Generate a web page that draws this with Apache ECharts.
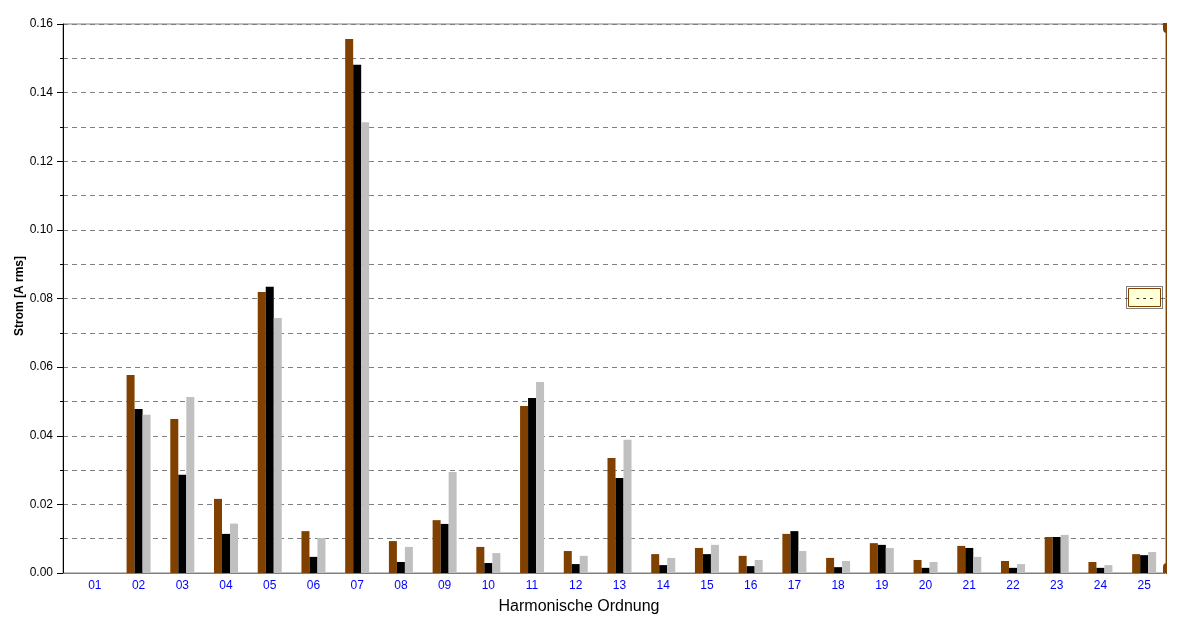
<!DOCTYPE html>
<html>
<head>
<meta charset="utf-8">
<script src="https://cdn.jsdelivr.net/npm/echarts@6/dist/echarts.min.js"></script>
<style>
html,body{margin:0;padding:0;background:#fff;}
#chart{width:1181px;height:631px;}
</style>
</head>
<body>
<div id="chart"></div>
<script>
const categories = ['01','02','03','04','05','06','07','08','09','10','11','12','13','14','15','16','17','18','19','20','21','22','23','24','25'];
const seriesL1 = [0, 0.0577, 0.0449, 0.0216, 0.0819, 0.0122, 0.1556, 0.0093, 0.0154, 0.0076, 0.0487, 0.0064, 0.0335, 0.0055, 0.0073, 0.0050, 0.0114, 0.0044, 0.0087, 0.0038, 0.0079, 0.0035, 0.0105, 0.0032, 0.0055];
const seriesL2 = [0, 0.0478, 0.0286, 0.0114, 0.0834, 0.0047, 0.1481, 0.0032, 0.0143, 0.0029, 0.0510, 0.0026, 0.0277, 0.0023, 0.0055, 0.0020, 0.0122, 0.0017, 0.0082, 0.0015, 0.0073, 0.0015, 0.0105, 0.0015, 0.0052];
const seriesL3 = [0, 0.0461, 0.0513, 0.0144, 0.0743, 0.0102, 0.1314, 0.0076, 0.0294, 0.0058, 0.0557, 0.0050, 0.0388, 0.0044, 0.0082, 0.0038, 0.0064, 0.0035, 0.0073, 0.0032, 0.0047, 0.0026, 0.0111, 0.0023, 0.0061];
const yTicks = [0, 0.02, 0.04, 0.06, 0.08, 0.10, 0.12, 0.14, 0.16];

const chart = echarts.init(document.getElementById('chart'), null, {renderer: 'canvas'});
const font = 'Liberation Sans, Arial, sans-serif';
const yMin = yTicks[0], yMax = yTicks[yTicks.length - 1];

const option = {
  animation: false,
  backgroundColor: '#ffffff',
  grid: [
    {left: 63, right: 15, top: 24, bottom: 58, show: true, borderColor: '#808080', borderWidth: 1, backgroundColor: 'transparent'},
    {left: 73, right: 15, top: 24, bottom: 58}
  ],
  xAxis: [
    {type: 'value', gridIndex: 0, min: 0, max: 1, axisLine: {show: true, lineStyle: {color: '#808080', width: 1}}, axisTick: {show: false}, axisLabel: {show: false}, splitLine: {show: false}},
    {type: 'category', gridIndex: 1, data: categories, axisLine: {show: false}, axisTick: {show: false},
     axisLabel: {color: '#0000ff', fontFamily: font, fontSize: 12, margin: 7}}
  ],
  yAxis: [
    {type: 'value', gridIndex: 0, min: yMin, max: yMax, interval: 0.02,
     axisLine: {show: true, lineStyle: {color: '#000', width: 1}},
     axisTick: {show: true, length: 6, lineStyle: {color: '#000'}},
     minorTick: {show: true, splitNumber: 2, length: 3, lineStyle: {color: '#000'}},
     axisLabel: {color: '#000', fontFamily: font, fontSize: 12, margin: 10, formatter: v => v.toFixed(2)},
     splitLine: {show: true, lineStyle: {color: '#808080', type: [5, 4], width: 1}},
     minorSplitLine: {show: true, lineStyle: {color: '#808080', type: [5, 4], width: 1}}
    },
    {type: 'value', gridIndex: 1, min: yMin, max: yMax, show: false, splitLine: {show: false}}
  ],
  series: [
    {type: 'bar', xAxisIndex: 1, yAxisIndex: 1, data: seriesL1, barWidth: 8, barGap: '0%', itemStyle: {color: '#804000'}},
    {type: 'bar', xAxisIndex: 1, yAxisIndex: 1, data: seriesL2, barWidth: 8, barGap: '0%', itemStyle: {color: '#000000'}},
    {type: 'bar', xAxisIndex: 1, yAxisIndex: 1, data: seriesL3, barWidth: 8, barGap: '0%', itemStyle: {color: '#c0c0c0'}}
  ],
  graphic: [
    {type: 'text', x: 20, y: 296, rotation: Math.PI / 2, z: 10, style: {text: 'Strom [A rms]', fill: '#000', font: 'bold 12px ' + font, textAlign: 'center', textVerticalAlign: 'middle'}},
    {type: 'text', x: 579, y: 599, z: 10, style: {text: 'Harmonische Ordnung', fill: '#000', font: '16px ' + font, textAlign: 'center', textVerticalAlign: 'top'}},
    {type: 'line', z: 20, shape: {x1: 1165.5, y1: 23, x2: 1165.5, y2: 574}, style: {stroke: '#f0a060', lineWidth: 1}},
    {type: 'line', z: 20, shape: {x1: 1166.5, y1: 23, x2: 1166.5, y2: 574}, style: {stroke: '#804000', lineWidth: 1}},
    {type: 'rect', z: 21, shape: {x: 1163, y: 23, width: 4, height: 10, r: [0, 0, 0, 4]}, style: {fill: '#804000'}},
    {type: 'rect', z: 21, shape: {x: 1163, y: 563, width: 4, height: 10, r: [4, 0, 0, 0]}, style: {fill: '#804000'}},
    {type: 'rect', z: 22, shape: {x: 1126.5, y: 286.5, width: 36, height: 22}, style: {fill: 'none', stroke: '#000', lineWidth: 1, lineDash: [1, 1]}},
    {type: 'rect', z: 22, shape: {x: 1128.5, y: 288.5, width: 32, height: 18}, style: {fill: '#ffffd8', stroke: '#804000', lineWidth: 1}},
    {type: 'text', z: 23, x: 1144.5, y: 297.5, style: {text: '- - -', fill: '#000', font: '11px ' + font, textAlign: 'center', textVerticalAlign: 'middle'}}
  ]
};
chart.setOption(option);
</script>
</body>
</html>
